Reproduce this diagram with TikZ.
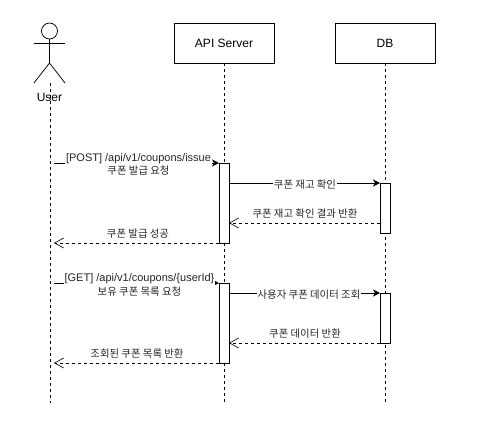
\documentclass[tikz,border=0pt]{standalone}
\usepackage{fontspec}
\setmainfont{Liberation Sans}
\newfontfamily\cjk{Noto Sans CJK KR}
\usetikzlibrary{arrows.meta}
\tikzset{
  x=1pt,y=-1pt,
  every node/.style={inner sep=0pt,outer sep=0pt,font=\fontsize{12}{14}\selectfont},
  box/.style={draw,line width=0.75pt,minimum width=100pt,minimum height=40pt},
  act/.style={draw,fill=white,line width=0.75pt,minimum width=10pt},
  life/.style={line width=0.75pt,dash pattern=on 3pt off 3pt},
  msg/.style={line width=0.75pt,-{Stealth[length=7pt,width=7pt,inset=2pt]}},
  ret/.style={line width=0.75pt,dash pattern=on 3pt off 3pt,-{Straight Barb[length=9pt,width=10pt,line width=0.6pt]}},
  lab/.style={fill=white,font=\fontsize{11}{13}\selectfont,align=center,inner xsep=1pt,inner ysep=0.5pt,text=black!85},
  figure/.style={line width=0.75pt}
}
\newcommand{\ko}[1]{{\cjk\fontsize{10.4}{13}\selectfont #1}}
\begin{document}
\begin{tikzpicture}
\useasboundingbox (0,0) rectangle (478,437);
\fill[white] (0,0) rectangle (478,437);
% actor
\node[circle,draw,line width=0.75pt,minimum size=16pt] (head) at (49.5,31) {};
\coordinate (hip) at (49.5,63);
\coordinate (armL) at (34,43);
\coordinate (armR) at (65,43);
\coordinate (legL) at (34,83);
\coordinate (legR) at (65,83);
\draw[figure] (head.south) -- (hip);
\draw[figure] (armL) -- (armR);
\draw[figure] (legL) -- (hip) -- (legR);
\node (user) at (49.5,97) {User};
% lifelines
\coordinate (uTop) at (50,83);
\coordinate (uBot) at (50,403);
\node[box] (api) at (224,43) {API Server};
\node[box] (db) at (385,43) {DB};
\coordinate (apiBot) at (224,403);
\coordinate (dbBot) at (385,403);
\draw[life] (uTop) -- (uBot);
\draw[life] (api.south) -- (apiBot);
\draw[life] (db.south) -- (dbBot);
% activations
\node[act,minimum height=80pt] (a1) at (224,203) {};
\node[act,minimum height=80pt] (a2) at (224,323) {};
\node[act,minimum height=50pt] (d1) at (385,208) {};
\node[act,minimum height=50pt] (d2) at (385,318) {};
% free ends on the user lifeline
\coordinate (u1) at (54,163);
\coordinate (u2) at (54,243);
\coordinate (u3) at (54,283);
\coordinate (u4) at (54,363);
% messages
\draw[msg] (u1) -- (a1.north west);
\node[lab] (m1) at (138.5,164.5) {[POST] /api/v1/coupons/issue\\[0.5pt]\ko{쿠폰 발급 요청}};
\draw[msg] (a1.east |- d1.north west) -- (d1.north west);
\node[lab] (m2) at (305,184.5) {\ko{쿠폰 재고 확인}};
\coordinate (r1) at (d1.west |- 0,223);
\draw[ret] (r1) -- (a1.east |- r1);
\node[lab] (m3) at (305,213.5) {\ko{쿠폰 재고 확인 결과 반환}};
\draw[ret] (a1.south west) -- (u2);
\node[lab] (m4) at (138,233.5) {\ko{쿠폰 발급 성공}};
\draw[msg] (u3) -- (a2.north west);
\node[lab] (m5) at (139.5,285) {[GET] /api/v1/coupons/\{userId\}\\[0.5pt]\ko{보유 쿠폰 목록 요청}};
\draw[msg] (a2.east |- d2.north west) -- (d2.north west);
\node[lab] (m6) at (309,294.5) {\ko{사용자 쿠폰 데이터 조회}};
\draw[ret] (d2.south west) -- (a2.east |- d2.south west);
\node[lab] (m7) at (305,333.5) {\ko{쿠폰 데이터 반환}};
\draw[ret] (a2.south west) -- (u4);
\node[lab] (m8) at (137,353.5) {\ko{조회된 쿠폰 목록 반환}};
\end{tikzpicture}
\end{document}
